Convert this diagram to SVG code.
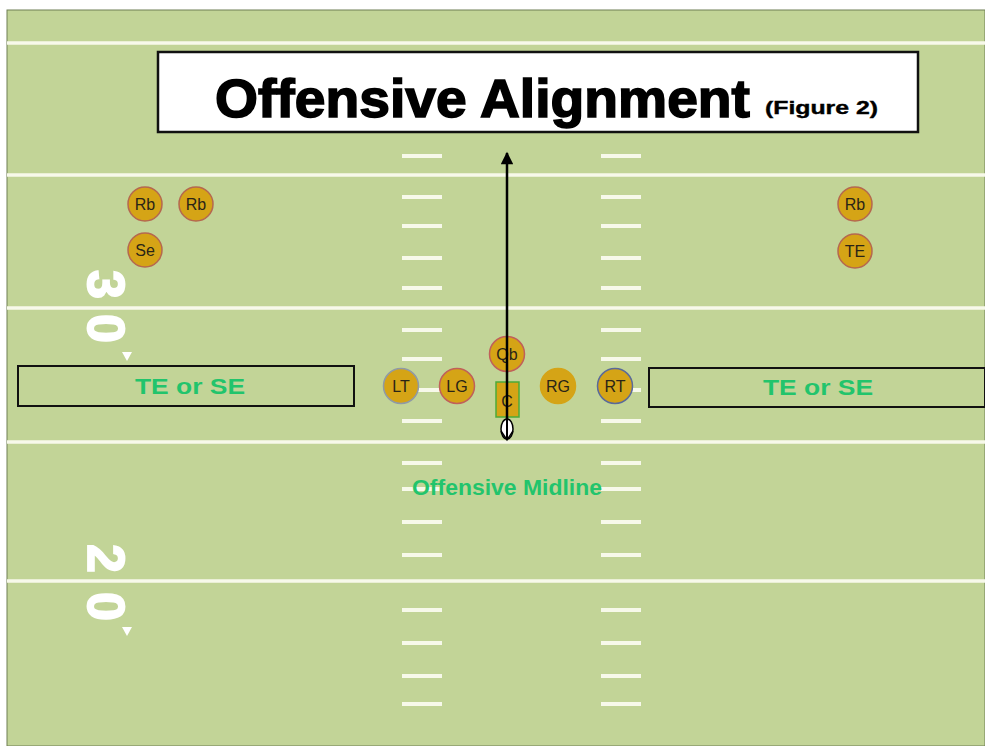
<svg xmlns="http://www.w3.org/2000/svg" width="985" height="746" viewBox="0 0 985 746">
<defs>
<style>
.yl{stroke:#f7f9ea;stroke-width:3.5}
.hm{stroke:#f7f9ea;stroke-width:4}
.pl{fill:#d5a416;stroke:#b5684f;stroke-width:1.5}
.pt{font-family:"Liberation Sans",Arial,sans-serif;font-size:16px;fill:#2a2416;text-anchor:middle}
.gt{font-family:"Liberation Sans",Arial,sans-serif;font-weight:bold;fill:#22c46c;text-anchor:middle}
.yn{font-family:"Liberation Sans",Arial,sans-serif;font-weight:bold;font-size:52px;fill:#ffffff;stroke:#ffffff;stroke-width:1.8}
.box{fill:none;stroke:#111;stroke-width:2}
</style>
<marker id="ah" viewBox="0 0 10 10" refX="9" refY="5" markerWidth="5.5" markerHeight="5" orient="auto"><path d="M0,0 L10,5 L0,10 z" fill="#000"/></marker>
</defs>
<rect x="0" y="0" width="985" height="746" fill="#ffffff"/>
<rect x="7" y="10" width="978" height="736" fill="#c2d497" stroke="#6f7f55" stroke-width="1"/>
<g id="yardlines">
<line class="yl" x1="7" y1="43" x2="985" y2="43"/>
<line class="yl" x1="7" y1="175" x2="985" y2="175"/>
<line class="yl" x1="7" y1="308" x2="985" y2="308"/>
<line class="yl" x1="7" y1="442" x2="985" y2="442"/>
<line class="yl" x1="7" y1="581" x2="985" y2="581"/>
</g>
<g id="hashes">
<path class="hm" d="M402,156h40M402,197h40M402,226h40M402,258h40M402,288h40M402,330h40M402,359h40M402,390h40M402,421h40M402,463h40M402,489h40M402,522h40M402,555h40M402,610h40M402,643h40M402,676h40M402,704h40"/>
<path class="hm" d="M601,156h40M601,197h40M601,226h40M601,258h40M601,288h40M601,330h40M601,359h40M601,390h40M601,421h40M601,463h40M601,489h40M601,522h40M601,555h40M601,610h40M601,643h40M601,676h40M601,704h40"/>
</g>
<g id="yardnumbers">
<text class="yn" transform="translate(88,270) rotate(90)">3</text>
<text class="yn" transform="translate(88,314) rotate(90)">0</text>
<path d="M122,352 L132,352 L127,361 z" fill="#fff"/>
<text class="yn" transform="translate(88,544) rotate(90)">2</text>
<text class="yn" transform="translate(88,592) rotate(90)">0</text>
<path d="M122,627 L132,627 L127,636 z" fill="#fff"/>
</g>
<g id="title">
<rect x="158" y="52" width="760" height="80" fill="#fff" stroke="#111" stroke-width="2.5"/>
<text x="215" y="117" font-family="'Liberation Sans',Arial,sans-serif" font-weight="bold" font-size="54" fill="#000" stroke="#000" stroke-width="1.6" textLength="535" lengthAdjust="spacingAndGlyphs">Offensive Alignment</text>
<text x="765" y="114" font-family="'Liberation Sans',Arial,sans-serif" font-weight="bold" font-size="19" fill="#000" stroke="#000" stroke-width="0.4" textLength="113" lengthAdjust="spacingAndGlyphs">(Figure 2)</text>
</g>
<g id="te-se-left">
<rect class="box" x="18" y="366" width="336" height="40"/>
<text class="gt" x="190" y="394" font-size="22" textLength="110" lengthAdjust="spacingAndGlyphs">TE or SE</text>
</g>
<g id="te-se-right">
<rect class="box" x="649" y="368" width="336" height="39"/>
<text class="gt" x="818" y="395" font-size="22" textLength="110" lengthAdjust="spacingAndGlyphs">TE or SE</text>
</g>
<g id="midline-label">
<text class="gt" x="507" y="495" font-size="22" textLength="190" lengthAdjust="spacingAndGlyphs">Offensive Midline</text>
</g>
<g id="rb1"><circle class="pl" cx="145" cy="204" r="17"/><text class="pt" x="145" y="210">Rb</text></g>
<g id="rb2"><circle class="pl" cx="196" cy="204" r="17"/><text class="pt" x="196" y="210">Rb</text></g>
<g id="se"><circle class="pl" cx="145" cy="250" r="17"/><text class="pt" x="145" y="256">Se</text></g>
<g id="rb3"><circle class="pl" cx="855" cy="204" r="17"/><text class="pt" x="855" y="210">Rb</text></g>
<g id="te"><circle class="pl" cx="855" cy="251" r="17"/><text class="pt" x="855" y="257">TE</text></g>
<g id="lt"><circle class="pl" style="stroke:#8f9aa6" cx="401" cy="386" r="17.5"/><text class="pt" x="401" y="392">LT</text></g>
<g id="lg"><circle class="pl" style="stroke:#c0605a" cx="457" cy="386" r="17.5"/><text class="pt" x="457" y="392">LG</text></g>
<g id="c"><rect x="496" y="382" width="23" height="35" fill="#d5a416" stroke="#4caa3a" stroke-width="1.5"/><text class="pt" x="507" y="407" font-size="20">C</text></g>
<g id="rg"><circle class="pl" style="stroke:#d5a416" cx="558" cy="386" r="17.5"/><text class="pt" x="558" y="392">RG</text></g>
<g id="rt"><circle class="pl" style="stroke:#5a6a9a" cx="615" cy="386" r="17.5"/><text class="pt" x="615" y="392">RT</text></g>
<g id="qb"><circle class="pl" style="stroke:#c0605a" cx="507" cy="354" r="17.5"/><text class="pt" x="507" y="360">Qb</text></g>
<g id="connectors">
<line x1="507" y1="428" x2="507" y2="153" stroke="#000" stroke-width="2.5" marker-end="url(#ah)"/>
<ellipse cx="507" cy="429" rx="6" ry="10" fill="#fff" stroke="#000" stroke-width="1.5"/>
<path d="M501,431 L507,440 L513,431" fill="none" stroke="#000" stroke-width="1.5"/>
<line x1="507" y1="419" x2="507" y2="440" stroke="#000" stroke-width="2"/>
</g>
</svg>
